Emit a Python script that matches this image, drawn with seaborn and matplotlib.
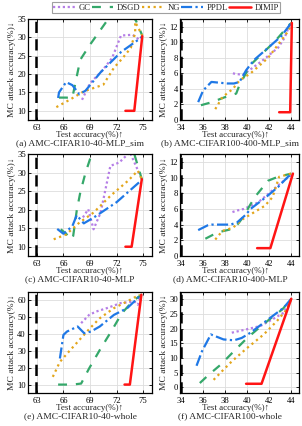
import matplotlib
matplotlib.use("Agg")
import matplotlib.pyplot as plt
import pandas as pd
import seaborn as sns

methods = ["GC", "DSGD", "NG", "PPDL", "DIMIP"]
colors = {"GC": "#b57ee6", "DSGD": "#35a86a", "NG": "#e3a61c", "PPDL": "#1f78e6", "DIMIP": "#ff1414"}
styles = {"GC": (0, (1, 1.2)), "DSGD": (0, (4, 4)), "NG": (0, (1, 1.6)), "PPDL": (0, (5, 1.5, 1, 1.5)), "DIMIP": "-"}
widths = {"GC": 1.6, "DSGD": 1.6, "NG": 1.6, "PPDL": 1.6, "DIMIP": 1.8}

# (a) AMC-CIFAR10-40-MLP_sim
a_gc = ([68.1, 69.0, 70.4, 71.5, 72.5, 73.8, 74.5], [13.0, 17.5, 21.0, 24.4, 30.5, 30.7, 29.5])
a_dsgd = ([65.5, 66.3, 67.0, 67.3, 67.9, 69.0, 71.0, 72.5, 74.2, 74.9], [13.6, 13.6, 13.5, 17.0, 23.9, 28.0, 34.8, 40.0, 34.5, 30.5])
a_ng = ([65.2, 66.7, 68.3, 70.5, 71.7, 72.7, 73.6, 74.1, 74.1, 74.9], [11.0, 13.0, 15.3, 17.1, 21.7, 24.4, 27.1, 31.2, 34.2, 30.5])
a_ppdl = ([65.4, 65.5, 66.3, 67.0, 67.8, 68.5, 70.2, 72.5, 74.6, 74.9], [13.5, 15.0, 17.8, 17.0, 14.5, 15.5, 20.5, 26.0, 29.6, 30.3])
a_dimip = ([73.0, 74.0, 74.9], [10.0, 10.0, 30.3])

# (b) AMC-CIFAR100-400-MLP_sim
b_gc = ([38.7, 39.6, 41.25, 42.8, 43.4, 43.8, 44.05], [6.0, 5.8, 7.5, 9.3, 10.6, 12.1, 12.5])
b_dsgd = ([35.8, 36.8, 37.9, 39.0, 39.3, 40.3, 41.25, 42.5, 43.85, 44.05], [1.9, 2.3, 2.9, 3.4, 4.5, 7.1, 8.4, 10.1, 12.3, 12.5])
b_ng = ([37.1, 37.75, 38.7, 39.3, 40.3, 41.9, 42.8, 43.7, 44.05], [1.4, 2.95, 4.0, 5.1, 6.0, 8.0, 9.7, 11.4, 12.5])
b_ppdl = ([35.55, 36.0, 36.75, 38.2, 38.8, 39.3, 39.9, 40.6, 41.9, 43.1, 44.0], [2.3, 3.8, 4.9, 4.7, 4.7, 4.9, 6.4, 7.7, 9.3, 10.8, 12.5])
b_dimip = ([42.9, 43.9, 44.05], [1.0, 1.0, 12.5])

# (c) AMC-CIFAR10-40-MLP
c_gc = ([68.2, 68.8, 69.4, 70.2, 71.3, 72.3, 73.5, 74.85], [17.9, 20.1, 14.7, 19.2, 31.8, 32.7, 35.5, 28.2])
c_dsgd = ([65.7, 66.3, 66.9, 67.1, 67.5, 67.9, 68.5, 69.0, 71.0, 74.0, 74.85], [14.7, 13.5, 12.0, 12.9, 19.7, 24.6, 30.0, 33.6, 40.0, 35.0, 28.2])
c_ng = ([64.9, 66.3, 67.8, 69.4, 71.3, 73.3, 74.4, 74.85], [12.0, 13.3, 16.5, 19.2, 23.7, 27.8, 30.5, 28.2])
c_ppdl = ([65.3, 66.0, 67.0, 67.5, 68.3, 69.5, 72.0, 74.85], [14.8, 13.5, 15.5, 18.5, 16.3, 18.0, 22.0, 28.0])
c_dimip = ([73.0, 73.7, 74.85], [10.0, 10.0, 28.2])

# (d) AMC-CIFAR10-400-MLP
d_gc = ([38.66, 39.1, 39.7, 40.95, 41.9, 42.8, 44.15], [5.6, 5.8, 6.0, 6.8, 7.9, 9.0, 10.5])
d_dsgd = ([36.2, 37.3, 38.5, 39.0, 39.6, 40.3, 40.8, 41.9, 42.8, 44.0], [2.2, 3.0, 3.4, 3.8, 4.9, 6.6, 7.7, 9.6, 10.1, 10.5])
d_ng = ([37.1, 37.75, 38.7, 39.6, 40.3, 41.6, 42.3, 42.9, 44.0], [2.1, 3.2, 3.6, 4.7, 5.3, 6.4, 7.5, 10.1, 10.5])
d_ppdl = ([35.55, 36.4, 36.8, 38.5, 39.1, 39.9, 40.3, 41.7, 42.8, 43.7, 44.15], [3.3, 3.9, 4.0, 4.0, 4.3, 5.3, 6.0, 7.5, 8.8, 10.1, 10.5])
d_dimip = ([40.9, 42.1, 44.15], [1.0, 1.0, 10.5])

# (e) AMC-CIFAR10-40-whole
e_gc = ([68.0, 68.9, 69.7, 70.9, 72.45, 74.0, 74.4, 74.8], [46.5, 51.4, 53.4, 55.4, 58.4, 59.4, 57.4, 63.4])
e_dsgd = ([65.4, 67.0, 68.0, 68.9, 70.1, 71.5, 72.6, 73.8, 74.8], [10.0, 10.0, 10.6, 19.6, 30.5, 42.5, 52.4, 59.4, 63.4])
e_ng = ([64.8, 65.6, 66.6, 67.8, 69.0, 70.1, 71.7, 73.2, 74.6], [14.6, 23.5, 29.5, 36.5, 43.5, 49.4, 55.4, 59.4, 63.4])
e_ppdl = ([65.6, 66.0, 66.4, 67.6, 68.35, 69.1, 70.1, 71.7, 73.2, 74.8], [25.5, 39.5, 41.5, 44.5, 40.5, 41.5, 44.5, 51.4, 55.4, 63.4])
e_dimip = ([72.9, 73.5, 74.8], [10.0, 10.0, 63.4])

# (f) AMC-CIFAR100-whole
f_gc = ([38.6, 40.0, 41.2, 42.4, 43.3, 44.0], [18.6, 19.8, 20.9, 23.4, 25.4, 30.2])
f_dsgd = ([35.7, 36.5, 37.6, 38.8, 40.0, 40.9, 42.0, 43.2, 44.0], [1.4, 4.2, 7.7, 12.3, 16.8, 19.7, 23.1, 26.6, 30.2])
f_ng = ([36.95, 37.7, 38.6, 40.0, 41.5, 42.7, 43.6, 44.0], [2.5, 5.4, 8.8, 13.4, 18.0, 22.6, 26.6, 30.2])
f_ppdl = ([35.4, 35.9, 36.7, 37.85, 38.8, 39.5, 40.3, 40.9, 42.1, 43.3, 44.0], [7.3, 12.3, 18.0, 16.3, 16.0, 16.8, 18.6, 20.3, 23.7, 27.1, 30.2])
f_dimip = ([39.9, 41.3, 44.0], [1.15, 1.15, 30.2])

panels = [
    ("(a) AMC-CIFAR10-40-MLP_sim", [a_gc, a_dsgd, a_ng, a_ppdl, a_dimip], 62.9, (62, 76), (7.5, 35), [63, 66, 69, 72, 75], [10, 15, 20, 25, 30, 35]),
    ("(b) AMC-CIFAR100-400-MLP_sim", [b_gc, b_dsgd, b_ng, b_ppdl, b_dimip], 34.0, (33.9, 44.7), (0, 13), [34, 36, 38, 40, 42, 44], [0, 2, 4, 6, 8, 10, 12]),
    ("(c) AMC-CIFAR10-40-MLP", [c_gc, c_dsgd, c_ng, c_ppdl, c_dimip], 62.9, (62, 76), (7.5, 35), [63, 66, 69, 72, 75], [10, 15, 20, 25, 30, 35]),
    ("(d) AMC-CIFAR10-400-MLP", [d_gc, d_dsgd, d_ng, d_ppdl, d_dimip], 34.0, (33.9, 44.7), (0, 13), [34, 36, 38, 40, 42, 44], [0, 2, 4, 6, 8, 10, 12]),
    ("(e) AMC-CIFAR10-40-whole", [e_gc, e_dsgd, e_ng, e_ppdl, e_dimip], 62.9, (62, 76), (5, 65), [63, 66, 69, 72, 75], [10, 20, 30, 40, 50, 60]),
    ("(f) AMC-CIFAR100-whole", [f_gc, f_dsgd, f_ng, f_ppdl, f_dimip], 34.0, (33.9, 44.7), (-2, 32.5), [34, 36, 38, 40, 42, 44], [0, 5, 10, 15, 20, 25, 30]),
]

sns.set_theme(style="whitegrid")
plt.rcParams["font.family"] = ["Liberation Serif", "DejaVu Serif"]

fig = plt.figure(figsize=(3.02, 4.26), dpi=100)
W, H = 302, 426
col_x = [(28, 152), (180, 299)]
row_y = [(19, 120), (154, 256), (292, 393)]
xlabel_cx = [90, 236]
caption_cx = [80, 230]

for i, (caption, series, base, xlim, ylim, xt, yt) in enumerate(panels):
    r, c = divmod(i, 2)
    x0, x1 = col_x[c]
    y0, y1 = row_y[r]
    ax = fig.add_axes([x0 / W, 1 - y1 / H, (x1 - x0) / W, (y1 - y0) / H])
    ax.axvline(base, color="black", linestyle=(0, (4.5, 2.5)), linewidth=1.8, zorder=3)
    for m, (xs, ys) in zip(methods, series):
        df = pd.DataFrame({"x": xs, "y": ys})
        sns.lineplot(data=df, x="x", y="y", ax=ax, sort=False, estimator=None,
                     color=colors[m], linestyle=styles[m], linewidth=widths[m], label=m, legend=False)
    ax.set_xlim(*xlim)
    ax.set_ylim(*ylim)
    ax.set_xticks(xt)
    ax.set_yticks(yt)
    ax.grid(True, color="#dddddd", linewidth=0.6)
    for s in ax.spines.values():
        s.set_color("black")
        s.set_linewidth(0.9)
    ax.tick_params(direction="in", length=2, width=0.6, labelsize=6.2, colors="black",
                   top=True, right=True, bottom=True, left=True)
    ax.tick_params(axis="x", pad=3)
    ax.tick_params(axis="y", pad=1.5)
    ax.set_xlabel("")
    ax.set_ylabel("MC attack accuracy(%)↓", fontsize=6.8, labelpad=1)
    fig.text(xlabel_cx[c] / W, 1 - (y1 + 15) / H, "Test accuracy(%)↑", ha="center", va="center", fontsize=6.5)
    fig.text(caption_cx[c] / W, 1 - (y1 + 23.5) / H, caption, ha="center", va="center", fontsize=6.8)
    if i == 0:
        handles, labels = ax.get_legend_handles_labels()

leg = fig.legend(handles, labels, loc="upper center", bbox_to_anchor=(166 / W, 1 - 2 / H), ncol=5,
                 fontsize=6.2, handlelength=2.5, handletextpad=0.4, columnspacing=0.2,
                 borderpad=0.2, borderaxespad=0, frameon=True, fancybox=False)
leg.get_frame().set_edgecolor("#888888")
leg.get_frame().set_linewidth(0.8)

fig.savefig("out.png", dpi=100)
